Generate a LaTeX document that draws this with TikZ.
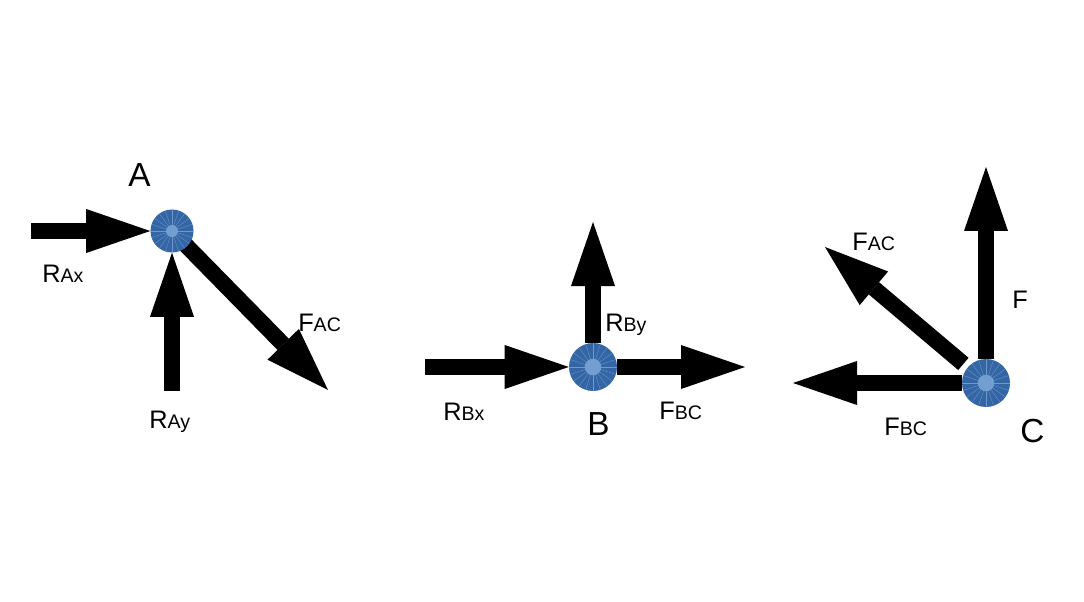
\documentclass[tikz,border=0pt]{standalone}
\usepackage{fontspec}
\setmainfont{Liberation Sans}
\usetikzlibrary{arrows.meta,backgrounds}
\definecolor{pinblue}{RGB}{52,101,164}
\definecolor{pinhubblue}{RGB}{114,159,207}
\definecolor{pinspoke}{RGB}{112,152,204}
\newcommand{\forcetext}[2]{#1{\fontsize{14.7}{16}\selectfont #2}}
\tikzset{
  forcearrow/.style={line width=12pt,-{Triangle[length=48pt 0 0,width=33pt 0 0,line width=0pt]},black},
  forcelabel/.style={anchor=base west,inner sep=0pt,font=\fontsize{19}{22}\selectfont},
  pointlabel/.style={anchor=base west,inner sep=0pt,font=\fontsize{25}{30}\selectfont},
  pinwheel/.style 2 args={circle,fill=pinblue,inner sep=0pt,minimum size=#1,
    path picture={
      \foreach \a in {0,18,...,342}
        \draw[pinspoke,line width=.25pt] (path picture bounding box.center) -- +(\a:30pt);
      \fill[pinhubblue] (path picture bounding box.center) circle[radius=#2];
    }},
}
\begin{document}
\begin{tikzpicture}[x=.75pt,y=-.75pt]
\useasboundingbox (0,0) rectangle (1084,602);

% the three pins
\node[pinwheel={32.25pt}{4.5pt}] (pinA) at (172,231) {};
\node[pinwheel={36pt}{6.2pt}] (pinB) at (593,367) {};
\node[pinwheel={36pt}{6.2pt}] (pinC) at (986,383) {};

% free ends of the forces
\coordinate (rax) at (31,231);
\coordinate (ray) at (172,391);
\coordinate (facA) at (328,390);
\coordinate (rby) at (593,222);
\coordinate (rbx) at (425,367);
\coordinate (fbcB) at (745,367);
\coordinate (f) at (986,167);
\coordinate (facC) at (825,247);
\coordinate (fbcC) at (793,383);

\begin{scope}[on background layer]
\draw[forcearrow] (rax) -- (pinA);
\draw[forcearrow] (ray) -- (pinA);
\draw[forcearrow,shorten <=-8pt] (pinA) -- (facA);
\draw[forcearrow] (pinB) -- (rby);
\draw[forcearrow] (rbx) -- (pinB);
\draw[forcearrow] (pinB) -- (fbcB);
\draw[forcearrow] (pinC) -- (f);
\draw[forcearrow,shorten <=4pt] (pinC) -- (facC);
\draw[forcearrow] (pinC) -- (fbcC);
\end{scope}

% labels
\node[pointlabel] (lblA) at (128,187) {A};
\node[pointlabel] (lblB) at (587,435) {B};
\node[pointlabel] (lblC) at (1020,442) {C};
\node[forcelabel] (lblRax) at (42,282) {\forcetext{R}{Ax}};
\node[forcelabel] (lblRay) at (149,428) {\forcetext{R}{Ay}};
\node[forcelabel] (lblFacA) at (298,331) {\forcetext{F}{AC}};
\node[forcelabel] (lblRby) at (605,331) {\forcetext{R}{By}};
\node[forcelabel] (lblRbx) at (443,420) {\forcetext{R}{Bx}};
\node[forcelabel] (lblFbcB) at (659,419) {\forcetext{F}{BC}};
\node[forcelabel] (lblFacC) at (852,251) {\forcetext{F}{AC}};
\node[forcelabel] (lblF) at (1012,308) {F};
\node[forcelabel] (lblFbcC) at (884,435) {\forcetext{F}{BC}};
\end{tikzpicture}
\end{document}
